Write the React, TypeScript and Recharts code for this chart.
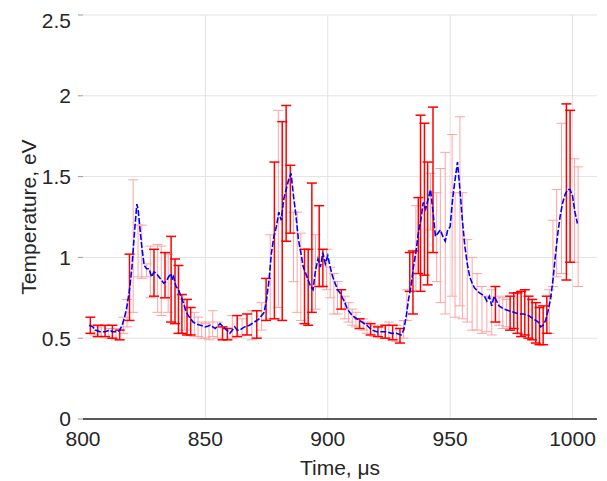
import React from 'react';
import { LineChart, Line, XAxis, YAxis, CartesianGrid, ErrorBar } from 'recharts';

// Blue temperature trace (time in µs, temperature in eV)
const lineT = [802.5, 804, 805, 807, 809, 811, 812, 814, 815, 816, 817, 818, 819, 820, 821, 822, 822.5, 823, 824, 825, 826, 827, 828, 829, 830, 831, 832, 833, 834, 835, 836, 836.5, 837, 838, 839, 840, 841, 842, 843, 844, 845, 846, 848, 850, 852, 854, 856, 858, 860, 862, 863, 864, 866, 868, 870, 872, 874, 875, 876, 877, 878, 879, 880, 881, 882, 883, 884, 885, 886, 887, 888, 889, 890, 891, 892, 893, 894, 895, 896, 897, 898, 899, 900, 901, 902, 903, 904, 905, 906, 907, 908, 910, 912, 914, 916, 918, 920, 922, 924, 926, 928, 930, 931, 932, 933, 934, 935, 936, 937, 938, 939, 940, 941, 942, 943, 944, 945, 946, 947, 948, 949, 950, 951, 952, 953, 954, 955, 956, 957, 958, 959, 960, 962, 964, 965, 966, 967, 968, 969, 970, 972, 974, 976, 978, 980, 982, 984, 986, 987, 988, 989, 990, 991, 992, 993, 994, 995, 996, 997, 998, 999, 1000, 1001, 1002];
const lineV = [0.58, 0.57, 0.55, 0.54, 0.54, 0.55, 0.54, 0.54, 0.55, 0.58, 0.63, 0.70, 0.80, 0.94, 1.15, 1.33, 1.30, 1.22, 1.07, 0.95, 0.93, 0.93, 0.88, 0.91, 0.90, 0.88, 0.86, 0.84, 0.85, 0.88, 0.90, 0.86, 0.88, 0.82, 0.80, 0.76, 0.72, 0.67, 0.64, 0.62, 0.60, 0.59, 0.58, 0.57, 0.58, 0.56, 0.59, 0.56, 0.53, 0.57, 0.55, 0.55, 0.57, 0.58, 0.60, 0.62, 0.66, 0.74, 0.86, 1.03, 1.13, 1.19, 1.28, 1.23, 1.36, 1.42, 1.48, 1.52, 1.38, 1.26, 1.11, 1.03, 0.94, 0.90, 0.86, 0.82, 0.80, 0.92, 0.99, 0.94, 1.03, 0.96, 1.01, 0.94, 0.88, 0.84, 0.80, 0.78, 0.75, 0.72, 0.68, 0.64, 0.62, 0.60, 0.58, 0.55, 0.54, 0.54, 0.54, 0.53, 0.53, 0.52, 0.55, 0.63, 0.74, 0.82, 0.94, 1.03, 1.15, 1.23, 1.34, 1.30, 1.36, 1.42, 1.28, 1.13, 1.15, 1.17, 1.13, 1.10, 1.17, 1.19, 1.36, 1.48, 1.59, 1.42, 1.23, 1.07, 0.96, 0.88, 0.84, 0.81, 0.78, 0.76, 0.73, 0.76, 0.70, 0.76, 0.73, 0.70, 0.68, 0.67, 0.66, 0.65, 0.65, 0.64, 0.62, 0.60, 0.57, 0.58, 0.61, 0.67, 0.74, 0.86, 1.01, 1.15, 1.26, 1.34, 1.39, 1.42, 1.42, 1.38, 1.28, 1.21];

// Error bars: time, lower bound, upper bound, 1 = solid red, 0 = faded
const errT = [803, 804.5, 806, 807.5, 809, 810.5, 812, 813.5, 815, 816.5, 818, 819, 820.5, 822.5, 824, 826, 827.5, 829, 830.5, 832, 833.5, 834.8, 836, 837.6, 839, 840.4, 841.5, 842.5, 844, 845.5, 847, 848.5, 850, 851.5, 853, 855, 857, 859, 861, 863, 865, 867, 869, 871, 873, 874.8, 876.5, 878.2, 879.8, 881.4, 883, 884.7, 886, 887.5, 889, 890.5, 892, 893.5, 895, 896.5, 898, 899.5, 901, 902.5, 904, 905.5, 907, 908.5, 910, 911.5, 913, 914.5, 916, 917.5, 919, 920.5, 922, 923.5, 925, 926.5, 928, 929.5, 931, 932.3, 933.5, 934.8, 936, 937, 937.9, 939.5, 940.8, 942, 943, 944.5, 946, 948, 950.8, 952, 954, 955, 957, 959, 961, 963, 965, 967, 968.5, 970, 971.5, 973, 974.5, 976, 977.5, 979, 980.5, 982, 983.5, 985, 986.5, 988, 989.5, 990.5, 992, 993.5, 995.5, 997.5, 999, 1000.8, 1002.3];
const errLow = [0.53, 0.52, 0.51, 0.51, 0.51, 0.50, 0.50, 0.49, 0.49, 0.53, 0.57, 0.61, 0.66, 0.88, 0.87, 0.88, 0.75, 0.76, 0.66, 0.64, 0.75, 0.66, 0.60, 0.59, 0.53, 0.53, 0.55, 0.52, 0.52, 0.51, 0.51, 0.50, 0.50, 0.49, 0.51, 0.50, 0.49, 0.49, 0.50, 0.51, 0.52, 0.52, 0.49, 0.50, 0.55, 0.61, 0.62, 0.62, 0.69, 0.61, 1.10, 1.15, 0.85, 0.66, 0.61, 0.59, 0.58, 0.66, 0.68, 0.82, 0.82, 0.80, 0.75, 0.65, 0.65, 0.68, 0.62, 0.60, 0.58, 0.57, 0.56, 0.55, 0.53, 0.52, 0.51, 0.51, 0.50, 0.50, 0.50, 0.49, 0.48, 0.47, 0.50, 0.61, 0.79, 0.65, 0.79, 0.90, 0.79, 0.89, 0.83, 1.17, 1.03, 0.85, 0.72, 0.65, 0.76, 0.63, 0.70, 0.62, 0.60, 0.55, 0.55, 0.53, 0.54, 0.52, 0.60, 0.58, 0.56, 0.57, 0.55, 0.56, 0.53, 0.51, 0.52, 0.50, 0.49, 0.47, 0.46, 0.46, 0.53, 0.53, 0.82, 0.88, 0.90, 0.86, 0.97, 0.97, 0.82];
const errHigh = [0.63, 0.58, 0.58, 0.57, 0.58, 0.56, 0.58, 0.56, 0.55, 0.63, 0.74, 1.02, 1.48, 1.20, 1.20, 0.96, 1.07, 1.05, 1.08, 1.07, 1.03, 1.02, 1.13, 0.99, 0.95, 0.77, 0.74, 0.74, 0.69, 0.66, 0.63, 0.60, 0.59, 0.60, 0.67, 0.60, 0.57, 0.56, 0.64, 0.64, 0.62, 0.65, 0.67, 0.67, 0.72, 0.87, 1.14, 1.59, 1.91, 1.84, 1.94, 1.57, 1.28, 1.28, 1.15, 1.05, 1.05, 1.46, 1.14, 1.32, 1.05, 1.05, 0.94, 0.90, 0.85, 0.80, 0.76, 0.72, 0.68, 0.66, 0.62, 0.62, 0.60, 0.59, 0.58, 0.57, 0.57, 0.58, 0.60, 0.58, 0.58, 0.56, 0.61, 0.80, 1.03, 1.04, 1.32, 1.37, 1.88, 1.83, 1.59, 1.52, 1.93, 1.40, 1.55, 1.65, 1.76, 1.40, 1.87, 1.40, 1.11, 1.00, 0.90, 0.82, 0.76, 0.80, 0.82, 0.76, 0.75, 0.74, 0.76, 0.78, 0.78, 0.79, 0.80, 0.76, 0.74, 0.72, 0.69, 0.70, 0.76, 0.80, 1.23, 1.42, 1.83, 1.95, 1.91, 1.61, 1.56];
const errSolid = [1, 0, 1, 0, 1, 0, 1, 0, 1, 0, 0, 1, 0, 0, 0, 0, 0, 1, 0, 0, 1, 0, 1, 1, 1, 1, 0, 1, 1, 0, 0, 0, 0, 0, 0, 0, 1, 1, 0, 1, 0, 1, 0, 1, 0, 1, 0, 1, 0, 1, 1, 1, 0, 0, 0, 1, 1, 1, 0, 1, 1, 0, 0, 0, 0, 1, 0, 0, 0, 0, 1, 0, 0, 1, 0, 1, 0, 1, 0, 1, 0, 1, 0, 0, 1, 1, 0, 1, 1, 1, 1, 0, 1, 0, 0, 0, 0, 0, 0, 0, 0, 0, 0, 0, 0, 0, 1, 0, 0, 0, 1, 1, 1, 1, 1, 1, 1, 1, 1, 1, 1, 0, 0, 0, 0, 1, 1, 0, 0];

const xTicks = [800, 850, 900, 950, 1000];
const yTicks = [0, 0.5, 1, 1.5, 2, 2.5];

const lineData = lineT.map((t, i) => ({ t, v: lineV[i] }));
const errRows = errT.map((t, i) => ({
  t,
  mid: (errLow[i] + errHigh[i]) / 2,
  err: (errHigh[i] - errLow[i]) / 2,
  solid: errSolid[i],
}));
const solidData = errRows.filter((r) => r.solid === 1);
const fadedData = errRows.filter((r) => r.solid === 0);

const TXT = '#262626';
const FONT = '"Liberation Sans", Arial, Helvetica, sans-serif';

const YLabel = (props: any) => {
  const vb = props.viewBox || { x: 0, y: 0, width: 0, height: 0 };
  const cx = vb.x + 20;
  const cy = vb.y + vb.height / 2;
  return (
    <text
      x={cx}
      y={cy}
      transform={`rotate(-90 ${cx} ${cy})`}
      textAnchor="middle"
      dominantBaseline="central"
      fill={TXT}
      fontSize={21}
      fontFamily={FONT}
    >
      Temperature, eV
    </text>
  );
};

export default function App() {
  return (
    <div style={{ width: 599, height: 473, fontFamily: FONT }}>
      <LineChart
        width={599}
        height={473}
        margin={{ top: 7, right: 10, bottom: 0, left: 0 }}
        style={{ fontFamily: FONT }}
      >
        <CartesianGrid stroke="#e3e3e3" verticalValues={[850, 900, 950, 1000]} />
        <XAxis
          type="number"
          dataKey="t"
          domain={[800, 1010]}
          ticks={xTicks}
          allowDataOverflow
          height={62}
          tickLine={false}
          tickSize={6}
          tickMargin={6}
          axisLine={{ stroke: TXT, strokeWidth: 1.5 }}
          tick={{ fill: TXT, fontSize: 21, fontFamily: FONT }}
          label={{ value: 'Time, μs', position: 'insideBottom', offset: 6, fill: TXT, fontSize: 21, fontFamily: FONT }}
        />
        <YAxis
          type="number"
          domain={[0, 2.5]}
          ticks={yTicks}
          width={75}
          axisLine={false}
          tickLine={{ stroke: '#9a9a9a' }}
          tickSize={5}
          tickMargin={7}
          tick={{ fill: TXT, fontSize: 21, fontFamily: FONT }}
          label={<YLabel />}
        />
        <Line
          data={fadedData}
          dataKey="mid"
          stroke="none"
          dot={false}
          activeDot={false}
          isAnimationActive={false}
        >
          <ErrorBar dataKey="err" direction="y" stroke="#ffa3a3" strokeWidth={1} width={5} isAnimationActive={false} />
        </Line>
        <Line
          data={solidData}
          dataKey="mid"
          stroke="none"
          dot={false}
          activeDot={false}
          isAnimationActive={false}
        >
          <ErrorBar dataKey="err" direction="y" stroke="#ff0000" strokeWidth={1.5} width={5} isAnimationActive={false} />
        </Line>
        <Line
          data={lineData}
          dataKey="v"
          stroke="#0000ff"
          strokeWidth={1.6}
          strokeDasharray="6 2"
          dot={false}
          activeDot={false}
          isAnimationActive={false}
        />
      </LineChart>
    </div>
  );
}
